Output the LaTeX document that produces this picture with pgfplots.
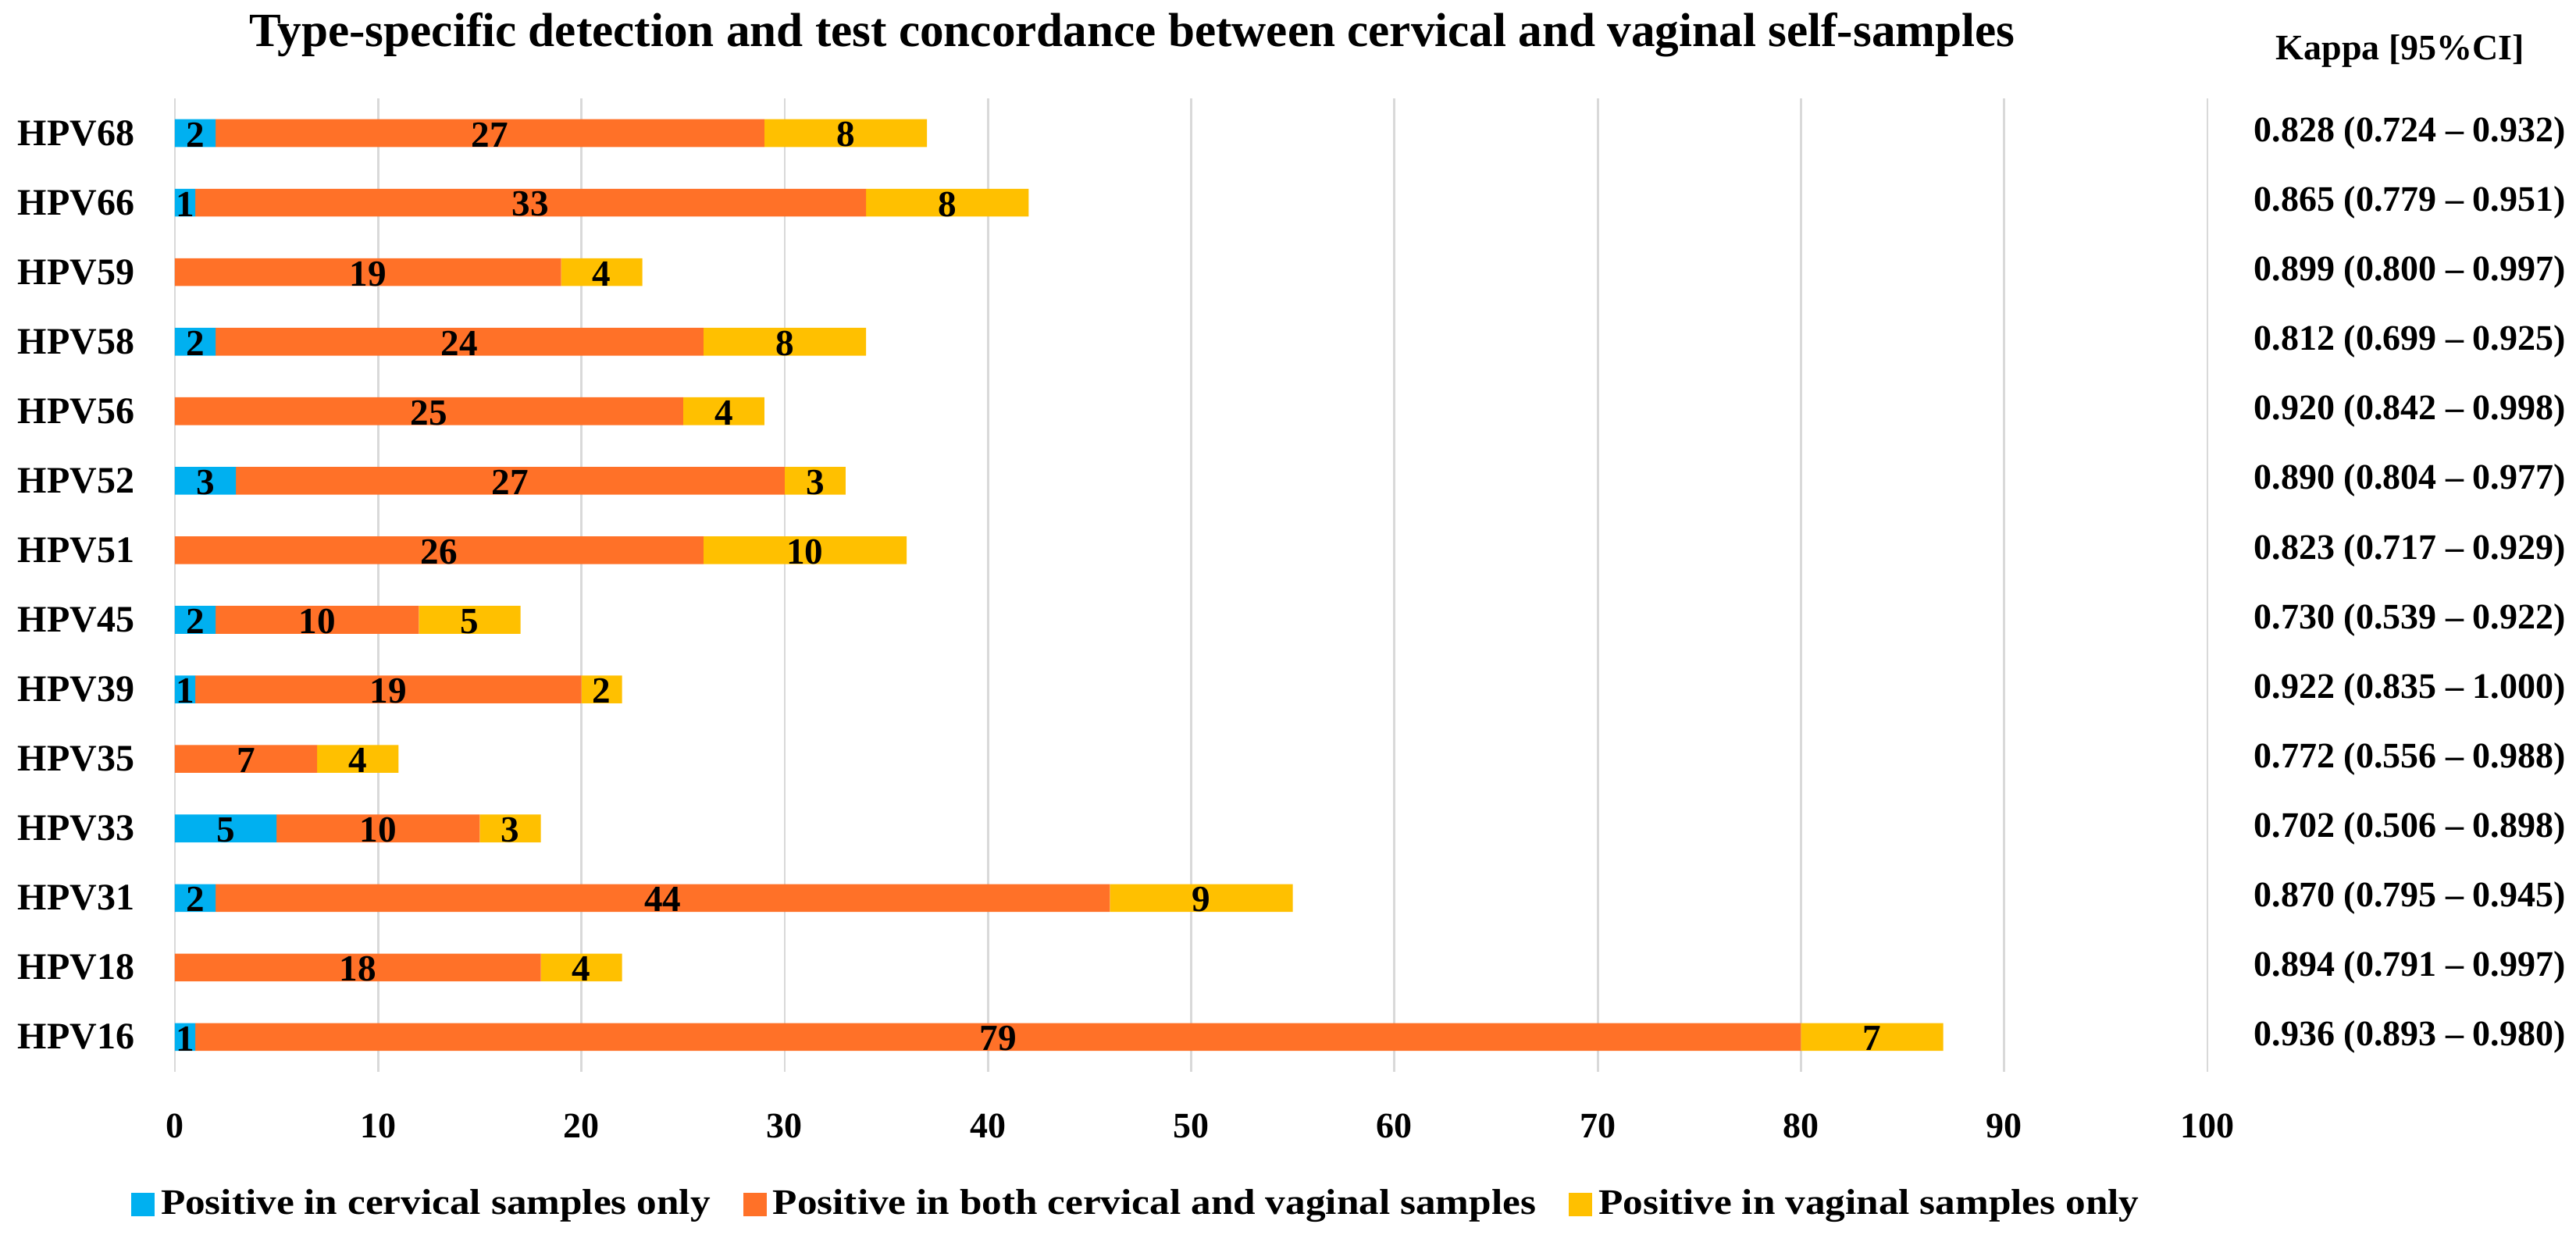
\documentclass[border=0pt]{standalone}
\usepackage{fontspec}
\setmainfont{Liberation Serif}
\newfontfamily\widefont{Liberation Serif}[FakeStretch=1.115]
\usepackage{pgfplots}
\usepackage{pgfplotstable}
\pgfplotsset{compat=1.18}
\definecolor{cblue}{HTML}{00B0F0}
\definecolor{corange}{HTML}{FF7128}
\definecolor{cyellow}{HTML}{FFC000}
\definecolor{cgrid}{HTML}{D9D9D9}
\pgfplotstableread{
y c b v
0 1 79 7
1 0 18 4
2 2 44 9
3 5 10 3
4 0 7 4
5 1 19 2
6 2 10 5
7 0 26 10
8 3 27 3
9 0 25 4
10 2 24 8
11 0 19 4
12 1 33 8
13 2 27 8
}\hpvdata
\pgfplotstableread{
x y lab
0.5 0 1
40.5 0 79
83.5 0 7
9 1 18
20 1 4
1 2 2
24 2 44
50.5 2 9
2.5 3 5
10 3 10
16.5 3 3
3.5 4 7
9 4 4
0.5 5 1
10.5 5 19
21 5 2
1 6 2
7 6 10
14.5 6 5
13 7 26
31 7 10
1.5 8 3
16.5 8 27
31.5 8 3
12.5 9 25
27 9 4
1 10 2
14 10 24
30 10 8
9.5 11 19
21 11 4
0.5 12 1
17.5 12 33
38 12 8
1 13 2
15.5 13 27
33 13 8
}\labdata
\begin{document}
\begin{tikzpicture}
\begin{axis}[
  at={(0,0)}, anchor=south west,
  scale only axis, width=650.75pt, height=311.75pt,
  xbar stacked, bar width=8.9pt,
  xmin=0, xmax=100, ymin=-0.5, ymax=13.5,
  xtick={0,10,...,100}, ytick={0,...,13},
  yticklabels={HPV16,HPV18,HPV31,HPV33,HPV35,HPV39,HPV45,HPV51,HPV52,HPV56,HPV58,HPV59,HPV66,HPV68},
  xmajorgrids, grid style={draw=cgrid, line width=0.7pt},
  axis line style={draw=none}, major tick length=0pt,
  /pgf/number format/assume math mode=true,
  xticklabel style={anchor=base, yshift=-21.25pt, inner sep=0pt, font=\fontsize{11.5}{12}\selectfont\bfseries},
  yticklabel style={anchor=east, inner sep=0pt, xshift=-12.75pt, font=\fontsize{12}{13}\selectfont\bfseries},
  legend columns=3,
  legend style={draw=none, at={(0.474,-0.1363)}, anchor=center,
    font=\widefont\fontsize{11.5}{12}\selectfont\bfseries,
    /tikz/every even column/.append style={column sep=8.5pt}},
  legend cell align=left,
  legend image code/.code={\fill[#1] (0pt,-3.75pt) rectangle (7.5pt,3.75pt);},
  clip=false,
]
\addplot[fill=cblue, draw=none] table[x=c, y=y] {\hpvdata};
\addlegendentry{Positive in cervical samples only}
\addplot[fill=corange, draw=none] table[x=b, y=y] {\hpvdata};
\addlegendentry{Positive in both cervical and vaginal samples}
\addplot[fill=cyellow, draw=none] table[x=v, y=y] {\hpvdata};
\addlegendentry{Positive in vaginal samples only}
\end{axis}
\begin{axis}[
  at={(0,0)}, anchor=south west,
  scale only axis, width=650.75pt, height=311.75pt,
  xmin=0, xmax=100, ymin=-0.5, ymax=13.5,
  hide axis, clip=false,
]
\addplot[only marks, mark=none, nodes near coords, point meta=explicit symbolic,
  nodes near coords align=center,
  every node near coord/.append style={anchor=center, yshift=-0.5pt, inner sep=0pt, font=\fontsize{11.8}{12}\selectfont\bfseries}]
  table[x=x, y=y, meta=lab] {\labdata};
\begin{scope}[every node/.style={anchor=center, font=\fontsize{11.5}{12}\selectfont\bfseries}]
\node at (axis cs:109.95,13) {0.828 (0.724 – 0.932)};
\node at (axis cs:109.95,12) {0.865 (0.779 – 0.951)};
\node at (axis cs:109.95,11) {0.899 (0.800 – 0.997)};
\node at (axis cs:109.95,10) {0.812 (0.699 – 0.925)};
\node at (axis cs:109.95,9) {0.920 (0.842 – 0.998)};
\node at (axis cs:109.95,8) {0.890 (0.804 – 0.977)};
\node at (axis cs:109.95,7) {0.823 (0.717 – 0.929)};
\node at (axis cs:109.95,6) {0.730 (0.539 – 0.922)};
\node at (axis cs:109.95,5) {0.922 (0.835 – 1.000)};
\node at (axis cs:109.95,4) {0.772 (0.556 – 0.988)};
\node at (axis cs:109.95,3) {0.702 (0.506 – 0.898)};
\node at (axis cs:109.95,2) {0.870 (0.795 – 0.945)};
\node at (axis cs:109.95,1) {0.894 (0.791 – 0.997)};
\node at (axis cs:109.95,0) {0.936 (0.893 – 0.980)};
\end{scope}
\end{axis}
\node[anchor=base, font=\fontsize{15.3}{16}\selectfont\bfseries] at (306.5pt,328.25pt)
  {Type-specific detection and test concordance between cervical and vaginal self-samples};
\node[anchor=base, font=\fontsize{11.5}{12}\selectfont\bfseries] at (712.5pt,324pt) {Kappa [95\%CI]};
\pgfresetboundingbox
\path[use as bounding box] (-56pt,-54.5pt) rectangle (768.75pt,343.25pt);
\end{tikzpicture}
\end{document}
